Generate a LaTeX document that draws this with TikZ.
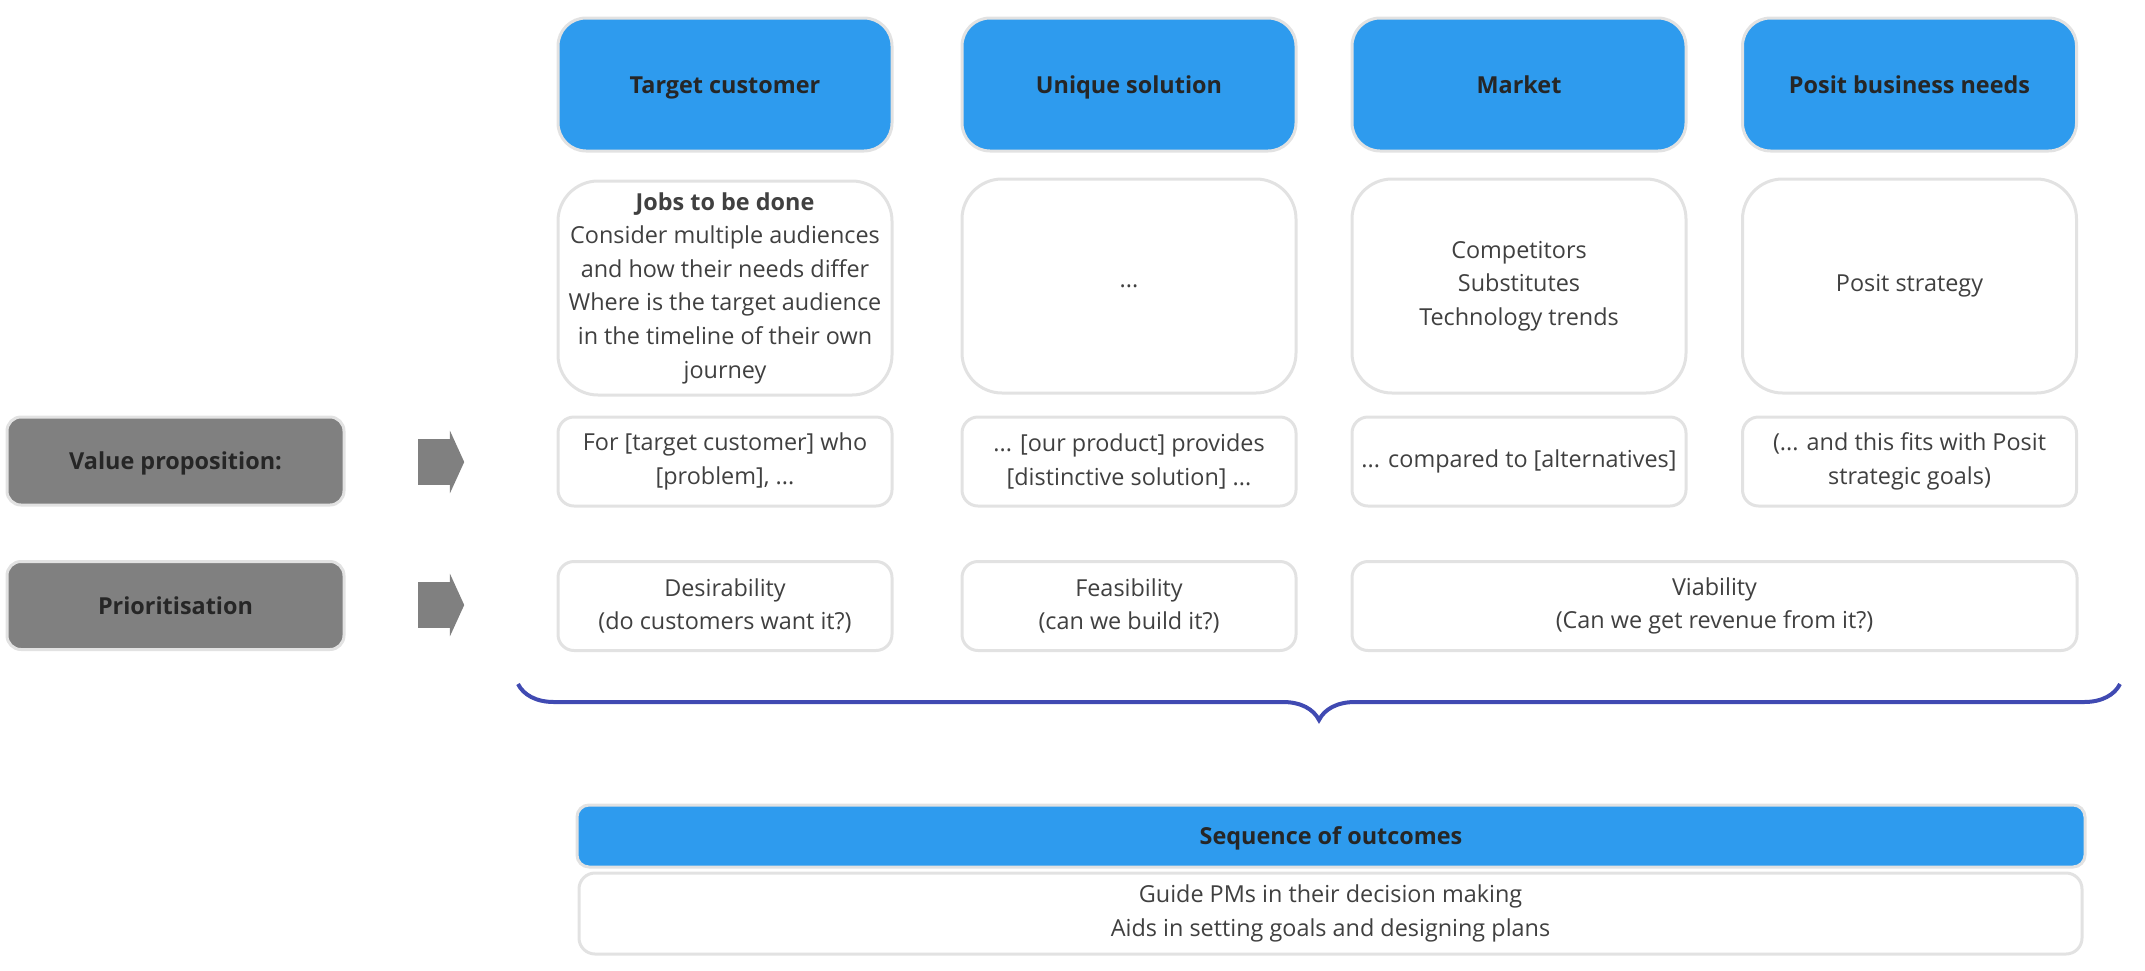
\documentclass[tikz,border=0pt]{standalone}
\usepackage{fontspec}
\setmainfont{Open Sans}
\usetikzlibrary{shapes.arrows,decorations.pathreplacing}
\definecolor{headblue}{RGB}{46,155,238}
\definecolor{boxline}{RGB}{226,226,226}
\definecolor{labgray}{RGB}{128,128,128}
\definecolor{txtdark}{RGB}{38,38,38}
\definecolor{txtbody}{RGB}{64,64,64}
\definecolor{bracecol}{RGB}{64,74,178}

\begin{document}
\begin{tikzpicture}[x=0.5pt,y=-0.5pt,
  headbox/.style={draw=boxline,line width=1.5pt,fill=headblue,rounded corners=14pt,minimum width=167pt,minimum height=66.5pt,text height=8.5pt,text depth=0pt,font=\fontsize{11.7}{16.8}\selectfont\bfseries,text=txtdark},
  cellbox/.style={draw=boxline,line width=1.5pt,fill=white,rounded corners=20pt,minimum width=167pt,minimum height=107pt,align=center,font=\fontsize{11.7}{16.8}\selectfont,text=txtbody},
  rowbox/.style={cellbox,rounded corners=8pt,minimum height=44.5pt},
  rowlab/.style={draw=boxline,line width=1.5pt,fill=labgray,rounded corners=7pt,minimum width=168.5pt,minimum height=44pt,text height=8.5pt,text depth=0pt,font=\fontsize{11.7}{16.8}\selectfont\bfseries,text=txtdark},
  grayarrow/.style={single arrow,fill=labgray,inner xsep=0pt,inner ysep=11.25pt,minimum height=23pt,single arrow head extend=4.25pt,single arrow tip angle=131},
  brace/.style={decorate,decoration={brace,mirror,amplitude=18pt},line width=2pt,draw=bracecol}]

\useasboundingbox (0,0) rectangle (2145,970);

\node[headbox] (tc) at (725,84.5) {Target customer};
\node[headbox] (us) at (1129,84.5) {Unique solution};
\node[headbox] (mk) at (1519,84.5) {Market};
\node[headbox] (pb) at (1909.5,84.5) {Posit business needs};

\node[cellbox] (tcx) at (725,288) {\textbf{Jobs to be done}\\Consider multiple audiences\\and how their needs differ\\Where is the target audience\\in the timeline of their own\\journey};
\node[cellbox] (usx) at (1129,286) {...};
\node[cellbox] (mkx) at (1519,286) {Competitors\\Substitutes\\Technology trends};
\node[cellbox] (pbx) at (1909.5,286) {Posit strategy};

\node[rowlab] (vp) at (175.5,461) {Value proposition:};
\node[grayarrow] (vparr) at (436,462) {};
\node[rowbox] (vp1) at (725,461.5) {For [target customer] who\\{}[problem], ...};
\node[rowbox] (vp2) at (1129,461.5) {... [our product] provides\\{}[distinctive solution] ...};
\node[rowbox] (vp3) at (1519,461.5) {... compared to [alternatives]};
\node[rowbox] (vp4) at (1909.5,461.5) {(... and this fits with Posit\\strategic goals)};

\node[rowlab] (pr) at (175.5,605.5) {Prioritisation};
\node[grayarrow] (prarr) at (436,605) {};
\node[rowbox] (pr1) at (725,606) {Desirability\\(do customers want it?)};
\node[rowbox] (pr2) at (1129,606) {Feasibility\\(can we build it?)};
\node[rowbox,minimum width=362.5pt] (pr3) at (1714.5,606) {Viability\\(Can we get revenue from it?)};

\coordinate (bl) at (518,684);
\coordinate (br) at (2120,684);
\draw[brace] (bl) -- (br);

\node[headbox,rounded corners=6pt,minimum width=754pt,minimum height=31pt] (so) at (1331,836) {Sequence of outcomes};
\node[rowbox,minimum width=751.5pt,minimum height=40.5pt] (sox) at (1330.5,913.5) {Guide PMs in their decision making\\Aids in setting goals and designing plans};

\end{tikzpicture}
\end{document}
